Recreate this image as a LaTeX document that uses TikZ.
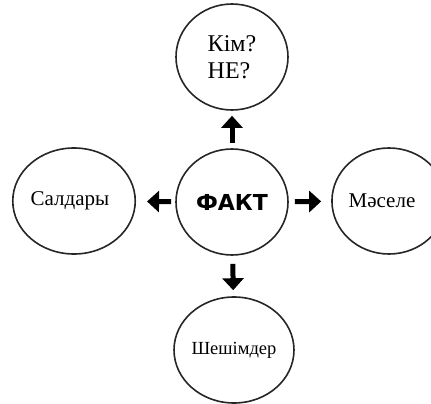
\documentclass[tikz,border=0pt]{standalone}
\usepackage{fontspec}
\setmainfont{Liberation Serif}
\newfontfamily\factfont{DejaVu Sans}
\usetikzlibrary{shapes.geometric,arrows.meta}
\tikzset{
  bubble/.style={ellipse, draw=black!85, line width=1.6pt, minimum width=112pt, minimum height=106pt, inner sep=0pt, align=left},
  bigarrow/.style={line width=5pt, -{Triangle[width=21pt,length=12pt]}}
}
\begin{document}
\begin{tikzpicture}[x=1pt,y=-1pt]
\useasboundingbox (0,0) rectangle (431,404);
\node[bubble, font=\factfont\bfseries\fontsize{22}{24}\selectfont] (c) at (232,202) {ФАКТ};
\node[bubble, font=\fontsize{24}{27}\selectfont] (t) at (232,57) {Кім?\\НЕ?};
\node[bubble, font=\fontsize{21}{24}\selectfont] (l) at (74,201) {Салдары\hspace*{8pt}};
\node[bubble, font=\fontsize{21}{24}\selectfont] (r) at (389,201) {Мәселе\hspace*{14pt}};
\node[bubble, font=\fontsize{18.5}{22}\selectfont] (b) at (234,350) {Шешімдер};
\draw[bigarrow, shorten <=5pt, shorten >=5pt] (c) -- (t);
\draw[bigarrow, shorten <=4pt, shorten >=11pt] (c) -- (l);
\draw[bigarrow, shorten <=6pt, shorten >=10pt] (c) -- (r);
\draw[bigarrow, shorten <=8pt, shorten >=6pt] (c) -- (b);
\end{tikzpicture}
\end{document}
